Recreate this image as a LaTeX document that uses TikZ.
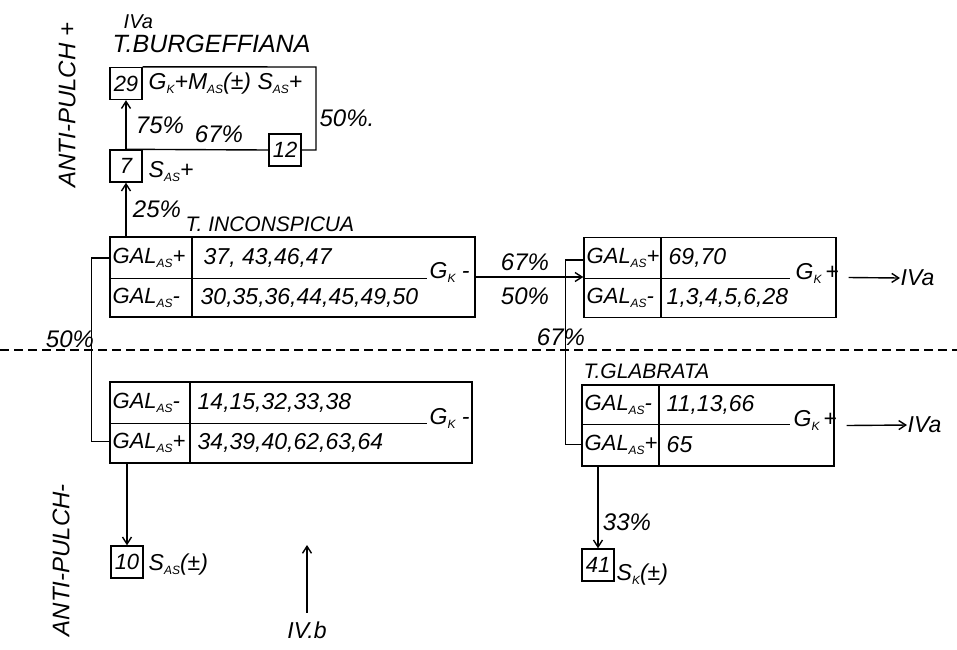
\documentclass[tikz,border=0pt]{standalone}
\usepackage{fontspec}
\setmainfont{Liberation Sans}
\usetikzlibrary{arrows.meta}

\newcommand{\lix}[1]{\raisebox{-4pt}{\fontsize{12}{12}\selectfont #1}}

\begin{document}
\begin{tikzpicture}[x=1pt,y=-1pt,line width=1.4pt,
  every node/.style={inner sep=0pt,font=\itshape\fontsize{23}{24}\selectfont},
  tab/.style={draw,rectangle,minimum height=80pt},
  numbox/.style={draw,minimum width=32pt,minimum height=32pt,font=\itshape\fontsize{22}{22}\selectfont},
  pct/.style={font=\itshape\fontsize{24}{24}\selectfont},
  galtxt/.style={anchor=west,font=\itshape\fontsize{22}{22}\selectfont},
  rowline/.style={line width=0.9pt},
  >={Straight Barb[length=7pt,width=9pt]}]

\useasboundingbox (0,0) rectangle (957,649);

\draw[dash pattern=on 9pt off 5pt,line width=1.2pt] (0,350) -- (957,350);

\node[rotate=90,font=\itshape\fontsize{24}{24}\selectfont] (applus) at (67,105) {ANTI-PULCH +};
\node[rotate=90,font=\itshape\fontsize{24}{24}\selectfont] (apminus) at (61,560) {ANTI-PULCH-};

% burgeffiana
\node[anchor=base west,font=\itshape\fontsize{20}{20}\selectfont] (ivatop) at (123,28) {IVa};
\node[anchor=base west,font=\itshape\fontsize{25}{26}\selectfont] (burg) at (112,52) {T.BURGEFFIANA};
\node[numbox] (b29) at (126,83.5) {29};
\node[anchor=west] (t29) at (148,84) {G\lix{K}+M\lix{AS}(±) S\lix{AS}+};
\node[numbox] (b12) at (285,150) {12};
\node[numbox] (b7) at (126,166) {7};
\node[anchor=west] (t7) at (148,172) {S\lix{AS}+};
\draw (b29.north east) -- (316,67) -- (316,150) -- (b12.east);
\draw (b12.west) -- (b7.north);
\draw[->] (b7.north) -- (b29.south);
\node[pct] at (160,125) {75\%};
\node[pct] at (219,134) {67\%};
\node[pct] at (347,118) {50\%.};

% inconspicua
\node[tab,minimum width=365pt] (incon) at (292.5,277) {};
\draw (192,237) -- (192,317);
\draw[rowline] (110,278) -- (427,278);
\node[galtxt] at (112,258) {GAL\lix{AS}+};
\node[galtxt] at (112,298) {GAL\lix{AS}-};
\node[anchor=west] at (203,258) {37, 43,46,47};
\node[anchor=west] at (200,298) {30,35,36,44,45,49,50};
\node[anchor=west] at (429,272) {G\lix{K} -};
\node[anchor=base west,font=\itshape\fontsize{21}{22}\selectfont] (incname) at (185,231) {T. INCONSPICUA};
\draw[->] (incon.north -| b7.south) -- (b7.south);
\node[pct] at (157,209) {25\%};

% upper right
\node[tab,minimum width=252pt] (upr) at (710,277.5) {};
\draw (661,238) -- (661,317);
\draw[rowline] (584,278) -- (790,278);
\node[galtxt] at (586,258) {GAL\lix{AS}+};
\node[galtxt] at (586,298) {GAL\lix{AS}-};
\node[anchor=west] at (668,258) {69,70};
\node[anchor=west] at (666,298) {1,3,4,5,6,28};
\node[anchor=west] at (795,273) {G\lix{K}\,+};
\node[anchor=west] (iva1) at (900,278) {IVa};
\draw[->] ([xshift=12pt]upr.east) -- (iva1.west);
\draw[->] (incon.east) -- (incon.east -| upr.west);
\node[pct] at (525,262) {67\%};
\node[pct] at (525,296) {50\%};

% lower left
\node[tab,minimum width=362pt,minimum height=81pt] (lowl) at (291,422.5) {};
\draw (190,382) -- (190,463);
\draw[rowline] (110,423) -- (427,423);
\node[galtxt] at (112,403) {GAL\lix{AS}-};
\node[galtxt] at (112,443) {GAL\lix{AS}+};
\node[anchor=west] at (197,403) {14,15,32,33,38};
\node[anchor=west] at (197,443) {34,39,40,62,63,64};
\node[anchor=west] at (429,418) {G\lix{K} -};
\draw ([yshift=19pt]incon.west) -- ++(-18,0) |- ([yshift=-19pt]lowl.west);
\node[pct] at (70,339) {50\%};

% glabrata
\node[tab,minimum width=252pt,minimum height=81pt] (lowr) at (708,425.5) {};
\draw (659,385) -- (659,466);
\draw[rowline] (582,424) -- (790,424);
\node[anchor=base west,font=\itshape\fontsize{21}{22}\selectfont] (glab) at (583,378) {T.GLABRATA};
\node[galtxt] at (584,405) {GAL\lix{AS}-};
\node[galtxt] at (584,445) {GAL\lix{AS}+};
\node[anchor=west] at (666,405) {11,13,66};
\node[anchor=west] at (666,445) {65};
\node[anchor=west] at (793,420) {G\lix{K}\,+};
\node[anchor=west] (iva2) at (907,425) {IVa};
\draw[->] ([xshift=12pt]lowr.east) -- (iva2.west);
\draw ([yshift=17.5pt]upr.west) -- ++(-18,0) |- ([yshift=-19pt]lowr.west);
\node[pct] at (561,337) {67\%};

% bottom
\node[numbox] (b10) at (127,562) {10};
\node[anchor=west] at (148,565) {S\lix{AS}(±)};
\draw[->] (b10.north |- lowl.south) -- (b10.north);
\node[numbox] (b41) at (598,565) {41};
\node[anchor=west] at (616,575) {S\lix{K}(±)};
\draw[->] (b41.north |- lowr.south) -- (b41.north);
\node[pct] at (627,522) {33\%};
\node (ivb) at (307,630) {IV.b};
\coordinate (ivbtop) at (307,545);
\draw[->] (ivb.north) ++(0,-8) -- (ivbtop);
\end{tikzpicture}
\end{document}
